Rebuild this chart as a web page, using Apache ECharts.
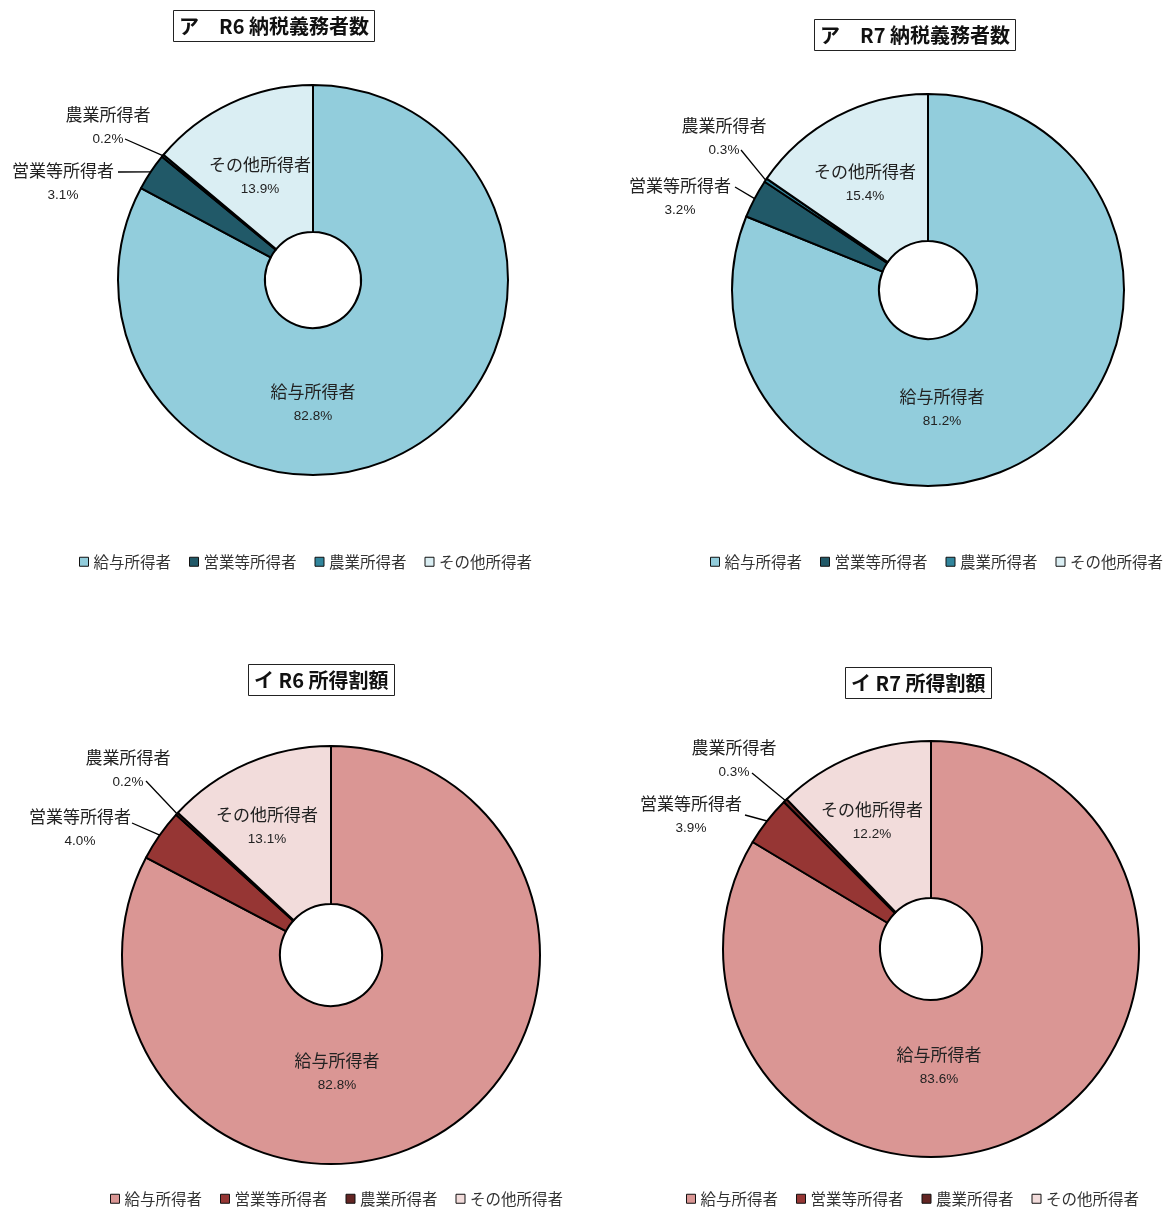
<!DOCTYPE html>
<html><head><meta charset="utf-8">
<script src="https://cdn.jsdelivr.net/npm/echarts@6/dist/echarts.min.js"></script>
<style>html,body{margin:0;padding:0;background:#fff}#c{width:1172px;height:1212px}</style>
</head><body><div id="c"></div>
<script>
// ---- data ----
const categories = ['給与所得者', '営業等所得者', '農業所得者', 'その他所得者'];
const chartTitles = ['ア　R6 納税義務者数', 'ア　R7 納税義務者数', 'イ R6 所得割額', 'イ R7 所得割額'];
const r6Taxpayers = [82.8, 3.1, 0.2, 13.9];
const r7Taxpayers = [81.2, 3.2, 0.3, 15.4];
const r6IncomeLevy = [82.8, 4.0, 0.2, 13.1];
const r7IncomeLevy = [83.6, 3.9, 0.3, 12.2];

// ---- styles / layout ----
const blueColors = ['#92CDDC', '#215968', '#31859C', '#DAEEF3'];
const redColors = ['#DA9694', '#963634', '#632523', '#F2DCDB'];

const panels = [
  { values: r6Taxpayers, colors: blueColors, center: [313, 280], radius: [48, 195], title: [173, 10], legend: [79, 554],
    labels: [[313, 404], [63, 183], [108, 127], [260, 177]], lineEnds: { 1: [118, 172], 2: [125, 139] } },
  { values: r7Taxpayers, colors: blueColors, center: [928, 290], radius: [49, 196], title: [814, 19], legend: [710, 554],
    labels: [[942, 409], [680, 198], [724, 138], [865, 184]], lineEnds: { 1: [735, 187], 2: [741, 150] } },
  { values: r6IncomeLevy, colors: redColors, center: [331, 955], radius: [51, 209], title: [248, 664], legend: [110, 1191],
    labels: [[337, 1073], [80, 829], [128, 770], [267, 827]], lineEnds: { 1: [132, 823], 2: [146, 781] } },
  { values: r7IncomeLevy, colors: redColors, center: [931, 949], radius: [51, 208], title: [845, 667], legend: [686, 1191],
    labels: [[939, 1067], [691, 816], [734, 760], [872, 822]], lineEnds: { 1: [745, 815], 2: [752, 773] } }
];

const insideIdx = [0, 3];

function anchorPoint(panel, idx) {
  const vals = panel.values;
  const sum = vals.reduce((a, b) => a + b, 0);
  let acc = 0;
  for (let i = 0; i < idx; i++) acc += vals[i];
  const mid = (acc + vals[idx] / 2) / sum * Math.PI * 2;
  const r = panel.radius[1];
  return [panel.center[0] + Math.sin(mid) * r, panel.center[1] - Math.cos(mid) * r];
}

const chart = echarts.init(document.getElementById('c'), null, { renderer: 'canvas' });

const option = {
  animation: false,
  backgroundColor: '#fff',
  title: panels.map((p, i) => ({
    text: chartTitles[i],
    left: p.title[0], top: p.title[1],
    padding: [6, 6],
    borderColor: '#222', borderWidth: 1,
    textStyle: { fontFamily: 'Noto Sans CJK JP', fontSize: 20, fontWeight: 'bold', color: '#111' }
  })),
  legend: panels.map((p) => ({
    left: p.legend[0], top: p.legend[1],
    padding: 0, itemGap: 18, itemWidth: 9, itemHeight: 9, icon: 'rect',
    selectedMode: false,
    itemStyle: { borderColor: '#111', borderWidth: 1 },
    textStyle: { fontFamily: 'Noto Sans CJK JP', fontSize: 15.5, color: '#333' },
    data: categories.map((c, j) => ({ name: c, itemStyle: { color: p.colors[j], borderColor: '#111', borderWidth: 1 } }))
  })),
  series: panels.map((p, si) => ({
    type: 'pie',
    center: p.center,
    radius: p.radius,
    startAngle: 90,
    clockwise: true,
    avoidLabelOverlap: false,
    minAngle: 0,
    itemStyle: { borderColor: '#000', borderWidth: 2 },
    emphasis: { disabled: true },
    label: {
      show: true,
      position: 'outside',
      color: '#222',
      formatter: (d) => '{n|' + d.name + '}\n{p|' + d.value.toFixed(1) + '%}',
      rich: {
        n: { fontFamily: 'Noto Sans CJK JP', fontSize: 17, lineHeight: 24, color: '#222', align: 'center' },
        p: { fontFamily: 'Liberation Sans', fontSize: 13.5, lineHeight: 24, color: '#222', align: 'center' }
      }
    },
    labelLine: { show: true, length: 10, length2: 10, lineStyle: { color: '#000', width: 1.3 } },
    labelLayout: function (params) {
      const pos = panels[params.seriesIndex].labels[params.dataIndex];
      const res = { x: pos[0], y: pos[1], align: 'center', verticalAlign: 'middle' };
      const end = panels[params.seriesIndex].lineEnds[params.dataIndex];
      if (end) {
        const a = anchorPoint(panels[params.seriesIndex], params.dataIndex);
        res.labelLinePoints = [a, end, end];
      }
      return res;
    },
    data: categories.map((c, j) => {
      const item = { name: c, value: p.values[j], itemStyle: { color: p.colors[j] } };
      if (insideIdx.indexOf(j) >= 0) {
        item.label = { position: 'inside' };
        item.labelLine = { show: false };
      }
      return item;
    })
  }))
};
chart.setOption(option);
</script>
</body></html>
